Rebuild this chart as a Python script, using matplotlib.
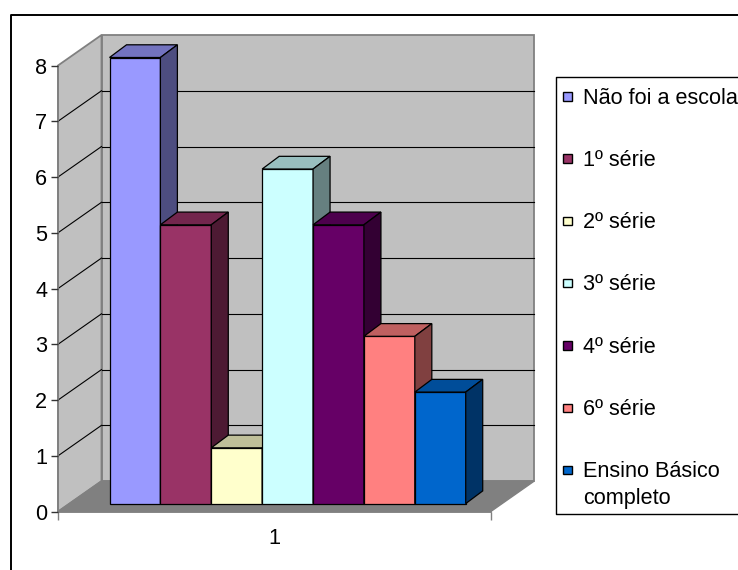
import matplotlib
matplotlib.use("Agg")
import matplotlib.pyplot as plt
from matplotlib.patches import Polygon, Rectangle
from matplotlib.lines import Line2D

# Data
categories = ["Não foi a escola", "1º série", "2º série", "3º série",
              "4º série", "6º série", "Ensino Básico\ncompleto"]
values = [8, 5, 1, 6, 5, 3, 2]
x_labels = ["1"]
y_ticks = [0, 1, 2, 3, 4, 5, 6, 7, 8]

# Excel style colours: front, top (darker), side (darkest)
front_colors = ["#9999FF", "#993366", "#FFFFCC", "#CCFFFF", "#660066", "#FF8080", "#0066CC"]
top_colors = ["#7373BF", "#73264D", "#BFBF99", "#99BFBF", "#4D004D", "#BF6060", "#004D99"]
side_colors = ["#4D4D80", "#4D1A33", "#808066", "#668080", "#330033", "#804040", "#003366"]

W, H = 738, 570
plt.rcParams['font.family'] = ['Liberation Sans', 'DejaVu Sans']

fig = plt.figure(figsize=(W / 100, H / 100), dpi=100)

# front plane of the axes, in pixels of the reference
ax_left, ax_right, ax_bottom, ax_top = 58, 490.7, 511.6, 65.5
ax = fig.add_axes([ax_left / W, 1 - ax_bottom / H,
                   (ax_right - ax_left) / W, (ax_bottom - ax_top) / H])
ax.set_xlim(0, 1)
ax.set_ylim(0, 8)

# pixel -> data unit helpers for the fake depth
ux = 1 / (ax_right - ax_left)
uy = 8 / (ax_bottom - ax_top)
wall_dx, wall_dy = 43.5 * ux, 30.5 * uy
bar_fx, bar_fy = 11.4 * ux, 8 * uy
bar_dx, bar_dy = 17 * ux, 12.7 * uy
bar_start, bar_w = 0.0927, 0.1176

grey = "#808080"
wall = "#C0C0C0"
ymax = y_ticks[-1]

# walls and floor
ax.add_patch(Rectangle((wall_dx, wall_dy), 1, ymax, facecolor=wall, edgecolor=grey,
                       lw=1.3, zorder=0.5, clip_on=False))
ax.add_patch(Polygon([(0, 0), (0, ymax), (wall_dx, ymax + wall_dy), (wall_dx, wall_dy)],
                     closed=True, facecolor=wall, edgecolor=grey, lw=1.3, zorder=0.6, clip_on=False))
for k in y_ticks[1:-1]:
    ax.plot([wall_dx, 1 + wall_dx], [k + wall_dy, k + wall_dy], color="black", lw=0.8,
            zorder=0.7, clip_on=False)
    ax.plot([0, wall_dx], [k, k + wall_dy], color="black", lw=0.8, zorder=0.7, clip_on=False)
ax.add_patch(Polygon([(0, 0), (1, 0), (1 + wall_dx, wall_dy), (wall_dx, wall_dy)],
                     closed=True, facecolor=grey, edgecolor=grey, lw=1.0, zorder=0.8, clip_on=False))

# bars, drawn left to right so each covers the previous side face
for i, v in enumerate(values):
    x0 = bar_start + i * bar_w + bar_fx
    x1 = x0 + bar_w
    z = 3 + i
    ax.bar(x0, v, bar_w, bottom=bar_fy, align="edge", color=front_colors[i],
           edgecolor="black", lw=0.9, zorder=z, clip_on=False)
    top = v + bar_fy
    ax.add_patch(Polygon([(x0, top), (x1, top), (x1 + bar_dx, top + bar_dy), (x0 + bar_dx, top + bar_dy)],
                         closed=True, facecolor=top_colors[i], edgecolor="black", lw=0.9,
                         zorder=z, clip_on=False))
    ax.add_patch(Polygon([(x1, bar_fy), (x1, top), (x1 + bar_dx, top + bar_dy), (x1 + bar_dx, bar_fy + bar_dy)],
                         closed=True, facecolor=side_colors[i], edgecolor="black", lw=0.9,
                         zorder=z, clip_on=False))

# axes look
for s in ["top", "right"]:
    ax.spines[s].set_visible(False)
for s in ["left", "bottom"]:
    ax.spines[s].set_color(grey)
    ax.spines[s].set_linewidth(1.3)
    ax.spines[s].set_zorder(1)
ax.set_yticks(y_ticks)
ax.tick_params(axis="y", length=4.8, width=1, color="#333333", pad=2.8, labelsize=15.6)
ax.set_xticks([0.5])
ax.set_xticklabels(x_labels)
ax.set_xticks([0, 1], minor=True)
ax.tick_params(axis="x", which="major", length=0, pad=11.5, labelsize=15.6)
ax.tick_params(axis="x", which="minor", length=5.5, width=1, color=grey)
ax.set_facecolor("none")


def fig_line(xs, ys, lw):
    # xs, ys in reference pixels (y from the top)
    fig.add_artist(Line2D([x / W for x in xs], [1 - y / H for y in ys],
                          transform=fig.transFigure, color="black", lw=lw))


# outer chart border (runs off the right and bottom edges)
fig_line([10.5, 10.5, W + 10], [H + 10, 15, 15], 1.4)

# legend, drawn by hand so the two-line entry lines up like the original
fig_line([W + 10, 556, 556, W + 10], [77, 77, 514, 514], 1.0)
for i, label in enumerate(categories):
    cy = 96 + i * 62.3
    fig.add_artist(Rectangle((563 / W, 1 - (cy + 4.5) / H), 8.5 / W, 8.5 / H,
                             transform=fig.transFigure, facecolor=front_colors[i],
                             edgecolor="black", lw=1.0))
    for j, line in enumerate(label.split("\n")):
        fig.text(583 / W, 1 - (cy + 7.5 + j * 27) / H, line, fontsize=15.6,
                 ha="left", va="baseline")

fig.savefig("out.png", dpi=100)
